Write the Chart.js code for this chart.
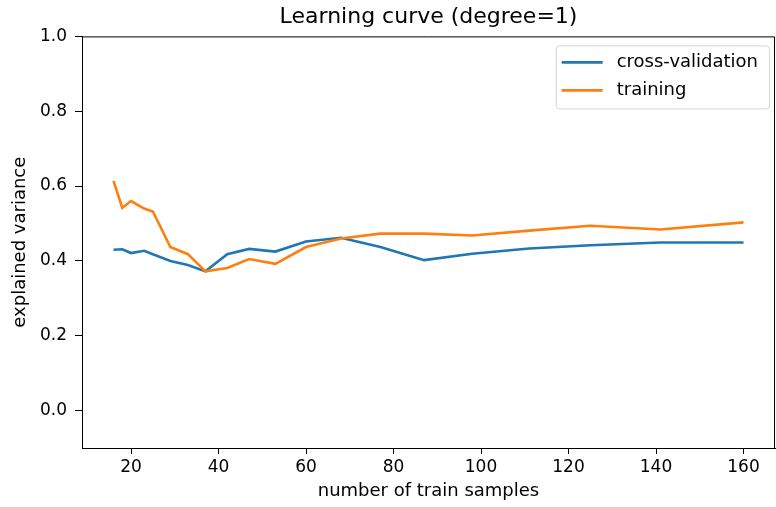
<!DOCTYPE html>
<html>
<head>
<meta charset="utf-8">
<script src="https://cdn.jsdelivr.net/npm/chart.js@4.4.0/dist/chart.umd.min.js"></script>
<style>
  html, body { margin: 0; padding: 0; background: #fff; }
  #wrap { width: 776px; height: 507px; }
</style>
</head>
<body>
<div id="wrap"><canvas id="curveChart"></canvas></div>
<script>
// values
const trainSizes = [16, 18, 20, 23, 25, 29, 33, 37, 42, 47, 53, 60, 68, 77, 87, 98, 111, 125, 141, 160];
const cvScores = [0.430, 0.431, 0.421, 0.427, 0.418, 0.400, 0.389, 0.372, 0.418, 0.432, 0.425, 0.452, 0.462, 0.437, 0.402, 0.419, 0.433, 0.442, 0.449, 0.449];
const trainScores = [0.614, 0.542, 0.560, 0.540, 0.532, 0.437, 0.418, 0.372, 0.381, 0.405, 0.392, 0.437, 0.460, 0.473, 0.473, 0.468, 0.481, 0.494, 0.484, 0.503];
const xTicks = [20, 40, 60, 80, 100, 120, 140, 160];
const yTicks = [0.0, 0.2, 0.4, 0.6, 0.8, 1.0];

const FONT = 'DejaVu Sans';

function toPoints(xs, ys) {
    return xs.map(function(x, i) { return { x: x, y: ys[i] }; });
}

// top + right spines, like a matplotlib axes box
const frameBox = {
    id: 'frameBox',
    afterDraw: function(chart) {
        const a = chart.chartArea;
        const ctx = chart.ctx;
        ctx.save();
        ctx.strokeStyle = '#000';
        ctx.lineWidth = 1;
        ctx.beginPath();
        ctx.moveTo(a.left, a.top + 0.5);
        ctx.lineTo(a.right - 0.5, a.top + 0.5);
        ctx.lineTo(a.right - 0.5, a.bottom);
        ctx.stroke();
        ctx.restore();
    }
};

// legend drawn inside the axes, upper right
const insideLegend = {
    id: 'insideLegend',
    afterDatasetsDraw: function(chart) {
        const ctx = chart.ctx;
        const a = chart.chartArea;
        const items = chart.data.datasets.slice();
        ctx.save();
        ctx.font = '18px "' + FONT + '"';
        let textW = 0;
        items.forEach(function(d) { textW = Math.max(textW, ctx.measureText(d.label).width); });
        const w = 61 + textW + 11;
        const h = 63;
        const x0 = a.right - 6 - w;
        const y0 = a.top + 9;
        ctx.fillStyle = 'rgba(255,255,255,0.8)';
        ctx.strokeStyle = '#d6d6d6';
        ctx.lineWidth = 1;
        ctx.beginPath();
        ctx.roundRect(x0 + 0.5, y0 + 0.5, w, h, 3);
        ctx.fill();
        ctx.stroke();
        items.forEach(function(d, i) {
            const yy = y0 + 17 + i * 28;
            ctx.strokeStyle = d.borderColor;
            ctx.lineWidth = 2.6;
            ctx.beginPath();
            ctx.moveTo(x0 + 6, yy);
            ctx.lineTo(x0 + 47, yy);
            ctx.stroke();
            ctx.fillStyle = '#000';
            ctx.textBaseline = 'middle';
            ctx.fillText(d.label, x0 + 61, yy);
        });
        ctx.restore();
    }
};

document.addEventListener('DOMContentLoaded', function() {
    const ctx = document.getElementById('curveChart').getContext('2d');
    const curveChart = new Chart(ctx, {
        type: 'line',
        data: {
            datasets: [{
                label: 'cross-validation',
                data: toPoints(trainSizes, cvScores),
                borderColor: '#1f77b4',
                borderWidth: 2.6,
                pointRadius: 0,
                tension: 0,
                order: 1
            }, {
                label: 'training',
                data: toPoints(trainSizes, trainScores),
                borderColor: '#ff7f0e',
                borderWidth: 2.6,
                pointRadius: 0,
                tension: 0,
                order: 0
            }]
        },
        options: {
            responsive: true,
            maintainAspectRatio: false,
            animation: false,
            devicePixelRatio: 1,
            layout: { padding: { left: 0, right: 1, top: 0, bottom: 0 } },
            scales: {
                x: {
                    type: 'linear',
                    min: 8.8,
                    max: 167.2,
                    afterBuildTicks: function(axis) {
                        axis.ticks = xTicks.map(function(v) { return { value: v }; });
                    },
                    afterFit: function(scale) { scale.height = 59; },
                    grid: { display: true, drawOnChartArea: false, drawTicks: true, tickLength: 6, tickColor: '#000' },
                    border: { display: true, color: '#000', width: 1 },
                    ticks: {
                        color: '#000',
                        padding: 3,
                        maxRotation: 0,
                        font: { family: FONT, size: 17 }
                    },
                    title: {
                        display: true,
                        text: 'number of train samples',
                        color: '#000',
                        font: { family: FONT, size: 18 },
                        padding: { top: 0, bottom: 5 }
                    }
                },
                y: {
                    min: -0.1,
                    max: 1.0,
                    afterBuildTicks: function(axis) {
                        axis.ticks = yTicks.map(function(v) { return { value: v }; });
                    },
                    afterFit: function(scale) { scale.width = 82; },
                    grid: { display: true, drawOnChartArea: false, drawTicks: true, tickLength: 7, tickColor: '#000' },
                    border: { display: true, color: '#000', width: 1 },
                    ticks: {
                        color: '#000',
                        padding: 8,
                        font: { family: FONT, size: 17 },
                        callback: function(value) { return value.toFixed(1); }
                    },
                    title: {
                        display: true,
                        text: 'explained variance',
                        color: '#000',
                        font: { family: FONT, size: 18 },
                        padding: { top: 10, bottom: 0 }
                    }
                }
            },
            plugins: {
                legend: { display: false },
                tooltip: { enabled: false },
                title: {
                    display: true,
                    text: 'Learning curve (degree=1)',
                    color: '#000',
                    fullSize: false,
                    font: { family: FONT, size: 22, weight: 'normal' },
                    padding: { top: 4, bottom: 6 }
                }
            }
        },
        plugins: [frameBox, insideLegend]
    });
});
</script>
</body>
</html>
